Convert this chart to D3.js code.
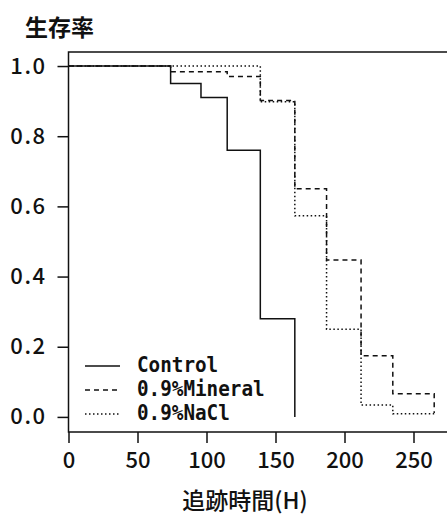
<!DOCTYPE html>
<html>
<head>
<meta charset="utf-8">
<script src="https://cdn.jsdelivr.net/npm/d3@7"></script>
<style>
  body { margin: 0; background: #fff; }
  svg { display: block; }
  .tick text { font-family: "Noto Sans CJK JP", "Noto Sans", sans-serif; font-size: 22px; font-weight: 500; fill: #111; }
  .tick line { stroke: #111; stroke-width: 1.5; }
</style>
</head>
<body>
<div id="chart"></div>
<script>
// survival curves (Kaplan-Meier style steps), time in hours
const controlTimes = [0, 74, 96, 115, 139, 164];
const controlSurv  = [1.0, 0.95, 0.91, 0.76, 0.28, 0.0];
const mineralTimes = [0, 74, 115, 139, 164, 187, 212, 235, 265];
const mineralSurv  = [1.0, 0.984, 0.97, 0.902, 0.65, 0.447, 0.174, 0.066, 0.011];
const naclTimes    = [0, 139, 164, 187, 212, 235, 265];
const naclSurv     = [1.0, 0.898, 0.573, 0.25, 0.034, 0.009, 0.009];

const seriesNames = ['Control', '0.9%Mineral', '0.9%NaCl'];
const dashes = [null, '5,4', '1.5,2.5'];
const xTicks = [0, 50, 100, 150, 200, 250];
const yTicks = [0, 0.2, 0.4, 0.6, 0.8, 1.0];

const width = 447;
const height = 515;
const plotTop = 52, plotBottom = 432, plotLeft = 68.5;

const svg = d3.select('#chart').append('svg')
    .attr('width', width).attr('height', height);

const x = d3.scaleLinear().domain([0, 250]).range([plotLeft, 413.5]);
const y = d3.scaleLinear().domain([-0.043, 1.04]).range([plotBottom, plotTop]);

// frame (right side runs off the picture)
svg.append('path')
    .attr('d', `M${width + 5},${plotTop}H${plotLeft}V${plotBottom}H${width + 5}`)
    .attr('fill', 'none').attr('stroke', '#111').attr('stroke-width', 1.5);

const yAxis = svg.append('g')
    .attr('transform', `translate(${plotLeft},0)`)
    .call(d3.axisLeft(y).tickValues(yTicks).tickSize(11).tickPadding(11)
        .tickFormat(d => d3.format('.1f')(d)));
yAxis.select('.domain').remove();
yAxis.selectAll('.tick text').attr('letter-spacing', 1.5);

const xAxis = svg.append('g')
    .attr('transform', `translate(0,${plotBottom})`)
    .call(d3.axisBottom(x).tickValues(xTicks).tickSize(11).tickPadding(9));
xAxis.select('.domain').remove();

const series = [
    {times: controlTimes, surv: controlSurv},
    {times: mineralTimes, surv: mineralSurv},
    {times: naclTimes, surv: naclSurv}
];

const line = d3.line()
    .x(d => x(d[0]))
    .y(d => y(d[1]))
    .curve(d3.curveStepAfter);

series.forEach((s, i) => {
    svg.append('path')
        .datum(d3.zip(s.times, s.surv))
        .attr('d', line)
        .attr('fill', 'none')
        .attr('stroke', '#111')
        .attr('stroke-width', 1.5)
        .attr('stroke-dasharray', dashes[i]);
});

// legend
const legend = svg.append('g');
seriesNames.forEach((name, i) => {
    const ly = 372 + i * 24;
    legend.append('line')
        .attr('x1', 85).attr('x2', 120)
        .attr('y1', ly - 6).attr('y2', ly - 6)
        .attr('stroke', '#111').attr('stroke-width', 1.3)
        .attr('stroke-dasharray', dashes[i]);
    legend.append('text')
        .attr('x', 137).attr('y', ly)
        .attr('font-family', '"DejaVu Sans Mono", monospace')
        .attr('font-weight', 'bold')
        .attr('font-size', 22)
        .attr('textLength', name.length * 11.6)
        .attr('lengthAdjust', 'spacingAndGlyphs')
        .attr('fill', '#111')
        .text(name);
});

// titles
svg.append('text')
    .attr('x', 25).attr('y', 36)
    .attr('font-family', '"Noto Sans CJK JP", sans-serif')
    .attr('font-weight', 'bold')
    .attr('font-size', 23)
    .attr('fill', '#111')
    .text('生存率');

svg.append('text')
    .attr('x', 245).attr('y', 509)
    .attr('text-anchor', 'middle')
    .attr('font-family', '"Noto Sans CJK JP", sans-serif')
    .attr('font-weight', 500)
    .attr('font-size', 23)
    .attr('fill', '#111')
    .text('追跡時間(H)');
</script>
</body>
</html>
